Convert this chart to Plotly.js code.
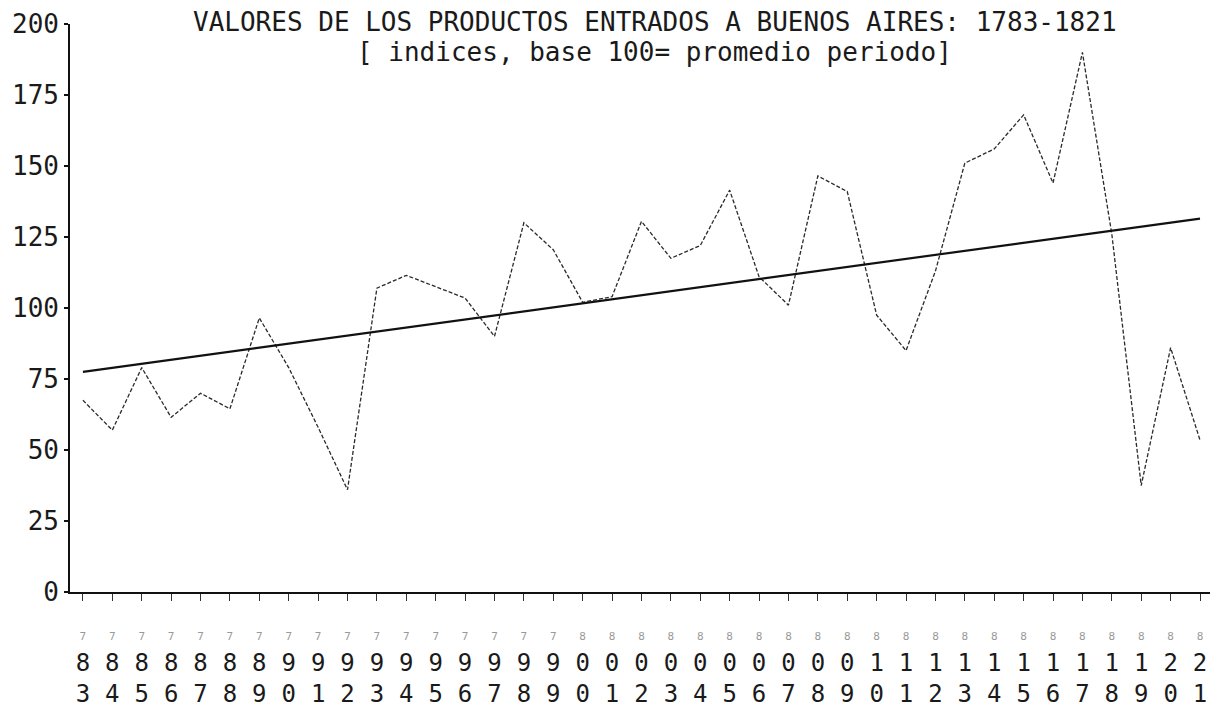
<!DOCTYPE html>
<html>
<head>
<meta charset="utf-8">
<script src="https://cdn.plot.ly/plotly-3.0.1.min.js"></script>
<style>
html,body{margin:0;padding:0;background:#fff;}
#chart{width:1214px;height:714px;}
</style>
</head>
<body>
<div id="chart"></div>
<script>
const years = [1783,1784,1785,1786,1787,1788,1789,1790,1791,1792,1793,1794,1795,1796,1797,1798,1799,1800,1801,1802,1803,1804,1805,1806,1807,1808,1809,1810,1811,1812,1813,1814,1815,1816,1817,1818,1819,1820,1821];
const values = [67.5,57,79,61.5,70,64.5,96.5,79,58,36,107,111.5,107.5,103.5,90,130,120.5,102,104,130.5,117.5,122,141.5,111,101,146.5,141,97.5,85,113,151,156,168,144,190,126,37.5,86,53.5];
const trendYears = [1783,1821];
const trendValues = [77.5,131.5];
const centuryDigit = ["7","7","7","7","7","7","7","7","7","7","7","7","7","7","7","7","7","8","8","8","8","8","8","8","8","8","8","8","8","8","8","8","8","8","8","8","8","8","8"];
const decadeDigit = ["8","8","8","8","8","8","8","9","9","9","9","9","9","9","9","9","9","0","0","0","0","0","0","0","0","0","0","1","1","1","1","1","1","1","1","1","1","2","2"];
const unitDigit = ["3","4","5","6","7","8","9","0","1","2","3","4","5","6","7","8","9","0","1","2","3","4","5","6","7","8","9","0","1","2","3","4","5","6","7","8","9","0","1"];
const yTickVals = [0,25,50,75,100,125,150,175,200];
const yTickText = ["0","25","50","75","100","125","150","175","200"];
const titleText = "VALORES DE LOS PRODUCTOS ENTRADOS A BUENOS AIRES: 1783-1821";
const subtitleText = "[ indices, base 100= promedio periodo]";

const xTickText = years.map((y,i)=>'<span style="font-size:11px;color:#999">'+centuryDigit[i]+'</span><br>'+decadeDigit[i]+'<br>'+unitDigit[i]);

const FONT = '"DejaVu Sans Mono", "Liberation Mono", monospace';

const traces = [
  {x: years, y: values, type:'scatter', mode:'lines',
   line:{color:'#2a2a2a', width:1.3, dash:'4px,2px'}, hoverinfo:'x+y'},
  {x: trendYears, y: trendValues, type:'scatter', mode:'lines',
   line:{color:'#111', width:2.2}, hoverinfo:'x+y'}
];

const layout = {
  width:1214, height:714,
  paper_bgcolor:'#fff', plot_bgcolor:'#fff',
  showlegend:false,
  margin:{l:70, r:4, t:24, b:122, pad:0},
  font:{family:FONT, color:'#1a1a1a'},
  xaxis:{
    range:[1782.56,1821.34], showgrid:false, zeroline:false,
    showline:true, linecolor:'#111', linewidth:1.8,
    ticks:'outside', ticklen:7, tickwidth:1, tickcolor:'#333',
    tickvals: years, ticktext: xTickText, tickangle:0,
    ticklabelstandoff:10,
    tickfont:{family:FONT, size:24, color:'#1a1a1a'}
  },
  yaxis:{
    range:[0,200], showgrid:false, zeroline:false,
    showline:true, linecolor:'#111', linewidth:1.8,
    ticks:'outside', ticklen:4, tickwidth:1.5, tickcolor:'#111',
    tickvals:yTickVals, ticktext:yTickText,
    tickfont:{family:FONT, size:26, color:'#1a1a1a'}
  },
  annotations:[
    {text:titleText, xref:'paper', yref:'paper', x:0.513, y:1.0035,
     xanchor:'center', yanchor:'middle', showarrow:false,
     font:{family:FONT, size:26, color:'#1a1a1a'}},
    {text:subtitleText, xref:'paper', yref:'paper', x:0.513, y:0.9507,
     xanchor:'center', yanchor:'middle', showarrow:false,
     font:{family:FONT, size:26, color:'#1a1a1a'}}
  ]
};

Plotly.newPlot('chart', traces, layout, {displayModeBar:false, staticPlot:true});
</script>
</body>
</html>
